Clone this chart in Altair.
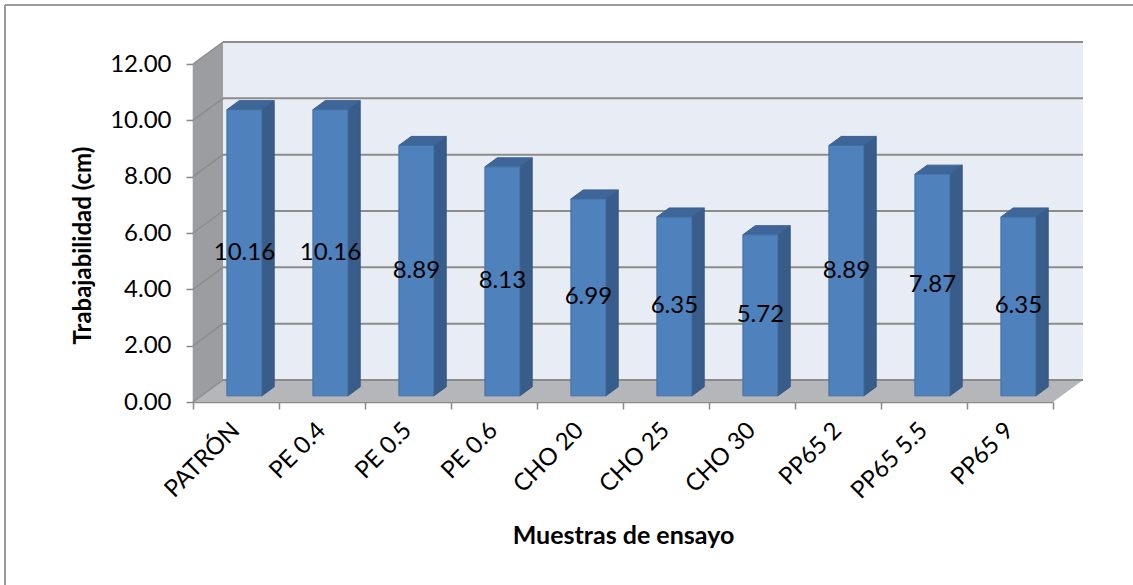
import altair as alt
import pandas as pd

# Workability per test sample
categories = ["PATRÓN", "PE 0.4", "PE 0.5", "PE 0.6", "CHO 20",
              "CHO 25", "CHO 30", "PP65 2", "PP65 5.5", "PP65 9"]
values = [10.16, 10.16, 8.89, 8.13, 6.99, 6.35, 5.72, 8.89, 7.87, 6.35]
y_ticks = [0, 2, 4, 6, 8, 10, 12]

FONT = "Lato"

# Plot geometry (front plane of the 3-D box)
W, H = 860, 338
N = len(categories)
Y_MAX = 12
PX_X = W / N
PX_Y = H / Y_MAX
DX = 30 / PX_X          # depth of the box, in x units
DY = 22 / PX_Y          # depth of the box, in y units
HALF_W = 17.5 / PX_X    # half bar width, in x units
F0, F1 = 0.28, 0.69     # front / back of the bars as fraction of depth

xs = alt.Scale(domain=[0, N], nice=False, zero=False)
ys = alt.Scale(domain=[0, Y_MAX], nice=False, zero=False)

AX_X = alt.Axis(values=list(range(N + 1)), labels=False, grid=False,
                tickSize=7, tickColor="#8a8a8a", domainColor="#8a8a8a",
                domainWidth=1.5, tickWidth=1.5,
                title="Muestras de ensayo", titleFont=FONT,
                titleFontSize=25, titleFontWeight="bold",
                titleColor="#000000", titleX=W / 2, titleY=133,
                titleBaseline="middle", titleAlign="center")
AX_Y = alt.Axis(values=y_ticks, format=".2f", grid=False,
                tickSize=7, tickColor="#8a8a8a", domainColor="#8a8a8a",
                domainWidth=1.5, tickWidth=1.5,
                labelFont=FONT, labelFontSize=24, labelColor="#000000",
                labelPadding=15,
                title="Trabajabilidad (cm)", titleFont=FONT,
                titleFontSize=24, titleFontWeight="bold",
                titleColor="#000000", titleX=-110, titleY=181,
                titleAngle=270, titleBaseline="middle",
                titleAlign="center")

# ---------- tables built from the arrays above ----------
bars = pd.DataFrame({"cat": categories, "val": values, "i": range(N)})
bars["x0"] = bars["i"] + 0.5 - HALF_W + F0 * DX
bars["x1"] = bars["i"] + 0.5 + HALF_W + F0 * DX
bars["y0"] = F0 * DY
bars["y1"] = bars["val"] + F0 * DY
bars["lx"] = bars["i"] + 0.5 + F0 * DX
bars["ly"] = bars["val"] / 2 + F0 * DY

side_rows, top_rows = [], []
for i, (c, v) in enumerate(zip(categories, values)):
    for f in (F0, F1):
        side_rows.append({"cat": c, "x": i + 0.5 + HALF_W + f * DX,
                          "y": f * DY, "y2": v + f * DY})
        top_rows.append({"cat": c, "y": v + f * DY,
                         "x": i + 0.5 - HALF_W + f * DX,
                         "x2": i + 0.5 + HALF_W + f * DX})
side = pd.DataFrame(side_rows)
top = pd.DataFrame(top_rows)

back_wall = pd.DataFrame({"x": [DX], "x2": [N + DX], "y": [DY], "y2": [Y_MAX + DY]})
side_wall = pd.DataFrame({"x": [0, DX], "y": [0, DY], "y2": [Y_MAX, Y_MAX + DY]})
floor = pd.DataFrame({"y": [0, DY], "x": [0, DX], "x2": [N, N + DX]})
grid = pd.DataFrame({"t": y_ticks})
grid["yb"] = grid["t"] + DY
grid["x0"] = 0.0
grid["xd"] = DX
grid["xe"] = N + DX
labels = pd.DataFrame({"cat": categories, "xc": [i + 0.5 for i in range(N)]})


def X(field):
    return alt.X(field, scale=xs, axis=AX_X)


def Y(field):
    return alt.Y(field, scale=ys, axis=AX_Y)


# ---------- layers ----------
wall = alt.Chart(back_wall).mark_rect(color="#e8ecf4").encode(
    x=X("x:Q"), x2="x2:Q", y=Y("y:Q"), y2="y2:Q")

left_wall = alt.Chart(side_wall).mark_area(color="#9c9da0", orient="vertical").encode(
    x=X("x:Q"), y=Y("y:Q"), y2="y2:Q")

floor_layer = alt.Chart(floor).mark_area(color="#b5b6b9", orient="horizontal").encode(
    y=Y("y:Q"), x=X("x:Q"), x2="x2:Q")

grid_back = alt.Chart(grid).mark_rule(color="#8c8c8c", strokeWidth=2).encode(
    x=X("xd:Q"), x2="xe:Q", y=Y("yb:Q"))

grid_side = alt.Chart(grid).mark_rule(color="#8c8c8c", strokeWidth=1.5).encode(
    x=X("x0:Q"), x2="xd:Q", y=Y("t:Q"), y2="yb:Q")

bar_side = alt.Chart(side).mark_area(color="#385d8a", stroke="#34577f",
                                     strokeWidth=1, orient="vertical").encode(
    x=X("x:Q"), y=Y("y:Q"), y2="y2:Q", detail="cat:N")

bar_top = alt.Chart(top).mark_area(color="#3e6699", stroke="#3a5f8e",
                                   strokeWidth=1, orient="horizontal").encode(
    y=Y("y:Q"), x=X("x:Q"), x2="x2:Q", detail="cat:N")

bar_front = alt.Chart(bars).mark_rect(color="#4f81bd", stroke="#41709f",
                                      strokeWidth=1).encode(
    x=X("x0:Q"), x2="x1:Q", y=Y("y0:Q"), y2="y1:Q")

value_text = alt.Chart(bars).mark_text(font=FONT, fontSize=24, color="#000000",
                                       align="center", baseline="middle").encode(
    x=X("lx:Q"), y=Y("ly:Q"),
    text=alt.Text("val:Q", format=".2f"))

cat_text = alt.Chart(labels).mark_text(font=FONT, fontSize=24, color="#000000",
                                       angle=315, align="right",
                                       baseline="middle").encode(
    x=X("xc:Q"), y=alt.value(H + 25), text="cat:N")

border_left = alt.Chart(labels).mark_rule(color="#9a9a9a", strokeWidth=2).encode(
    x=alt.value(-188), y=alt.value(-59), y2=alt.value(H + 183))
border_top = alt.Chart(labels).mark_rule(color="#9a9a9a", strokeWidth=2).encode(
    y=alt.value(-59), x=alt.value(-188), x2=alt.value(W + 80))

chart = alt.layer(
    wall, left_wall, floor_layer, grid_back, grid_side,
    bar_side, bar_top, bar_front, value_text, cat_text,
    border_left, border_top,
).properties(
    width=W, height=H,
    autosize=alt.AutoSizeParams(type="none"),
    padding={"left": 193, "top": 64, "right": 80, "bottom": 183},
    background="#ffffff",
).configure_view(stroke=None)

chart.save("out.html", embed_options={"renderer": "svg", "actions": False})
